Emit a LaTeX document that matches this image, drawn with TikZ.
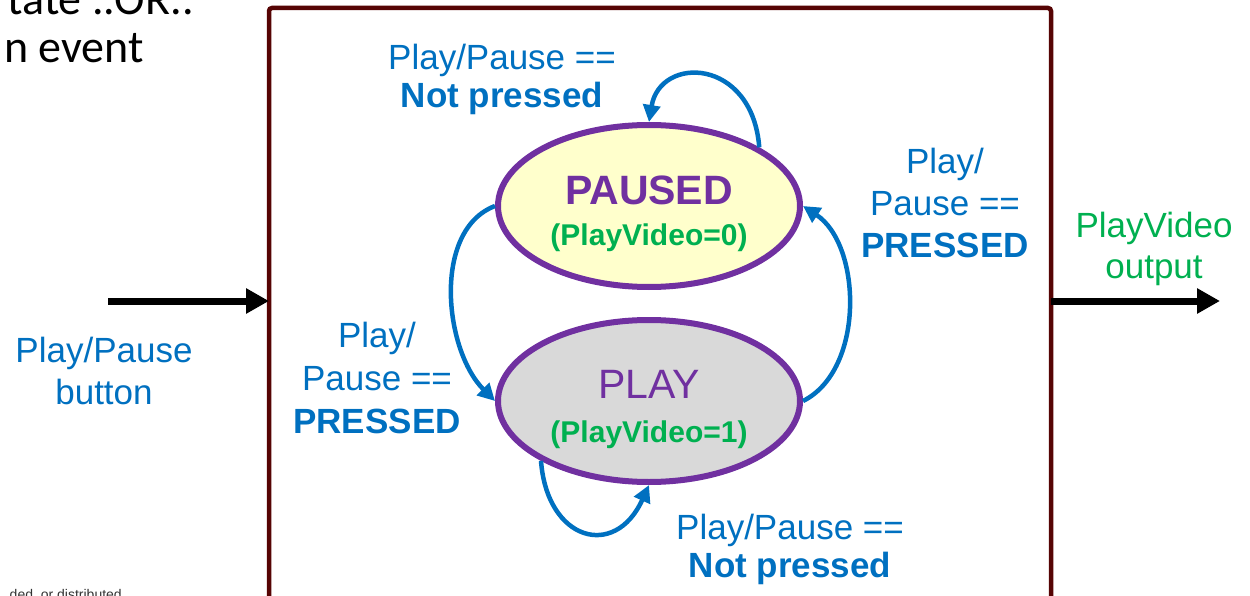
\documentclass[tikz,border=0pt]{standalone}
\usepackage{fontspec}
\setmainfont{Liberation Sans}
\newfontfamily\slidefont{Carlito}
\usetikzlibrary{arrows.meta,shapes.geometric}

\definecolor{fsmblue}{HTML}{0070C0}
\definecolor{fsmgreen}{HTML}{00B050}
\definecolor{fsmpurple}{HTML}{7030A0}
\definecolor{pausedfill}{HTML}{FFFFCC}
\definecolor{playfill}{HTML}{D9D9D9}
\definecolor{boxred}{HTML}{560404}

\tikzset{
  statenode/.style={ellipse, draw=fsmpurple, line width=6pt, inner sep=0pt,
    minimum width=302pt, minimum height=162pt},
  statename/.style={anchor=base, text=fsmpurple, inner sep=0pt,
    font=\fontsize{41}{48}\selectfont},
  stateout/.style={anchor=base, text=fsmgreen, inner sep=0pt,
    font=\fontsize{30}{36}\selectfont\bfseries},
  % multi-line labels: the base anchor sits on the last line
  translabel/.style={anchor=base, text=fsmblue, inner sep=0pt, align=center},
  portlabel/.style={anchor=base, inner sep=0pt, align=center},
  transition/.style={draw=fsmblue, line width=4.5pt,
    -{Triangle[length=17pt,width=17pt]}},
  signal/.style={draw=black, line width=7pt,
    -{Triangle[length=23pt,width=24pt]}},
}

\begin{document}
\begin{tikzpicture}[x=1pt,y=-1pt]
\useasboundingbox (0,0) rectangle (1250,596);

% slide text around the block
\node[anchor=base east, inner sep=0pt, font=\slidefont\fontsize{46}{52}\selectfont]
  (slideA) at (194,15) {tate ..OR..};
\node[anchor=base east, inner sep=0pt, font=\slidefont\fontsize{46}{52}\selectfont]
  (slideB) at (144,63) {n event};
\node[anchor=base east, inner sep=0pt, text=black!80, font=\fontsize{14}{16}\selectfont]
  (footer) at (122,599) {ded, or distributed};

% state machine block
\node[draw=boxred, line width=4.5pt, rounded corners=3pt, outer sep=0pt,
      inner sep=0pt, minimum width=782pt, minimum height=700pt,
      anchor=north west] (fsm) at (269,8) {};

% states
\node[statenode, fill=pausedfill] (paused) at (649,206) {};
\node[statenode, fill=playfill] (play) at (649,401) {};

\node[statename, font=\fontsize{41}{48}\selectfont\bfseries] (pausedname) at (649,205) {PAUSED};
\node[stateout] (pausedout) at (649,245) {(PlayVideo=0)};
\node[statename] (playname) at (649,398) {PLAY};
\node[stateout] (playout) at (649,442) {(PlayVideo=1)};

% transitions
\draw[transition] (paused.28) .. controls +(-7,-90) and +(11,-67) .. (paused.90);
\draw[transition] (paused.180) .. controls +(-63,24) and +(-51,-51) .. (play.180);
\draw[transition] (play.0) .. controls +(62,-31) and +(59,39) .. (paused.0);
\draw[transition] (play.209) .. controls +(6,80) and +(-34,75) .. (play.270);

% transition labels
\node[translabel, font=\fontsize{35}{38}\selectfont] (lblstay1) at (502,108)
  {Play/Pause ==\\\textbf{Not pressed}};
\node[translabel, font=\fontsize{35}{42.5}\selectfont] (lblgo) at (945,258)
  {Play/\\Pause ==\\\textbf{PRESSED}};
\node[translabel, font=\fontsize{35}{43}\selectfont] (lblback) at (377,433)
  {Play/\\Pause ==\\\textbf{PRESSED}};
\node[translabel, font=\fontsize{35}{38}\selectfont] (lblstay2) at (790,577)
  {Play/Pause ==\\\textbf{Not pressed}};

% input and output
\coordinate (btnin) at (108,301);
\coordinate (vidout) at (1220,301);
\draw[signal] (btnin) -- (btnin -| fsm.west);
\draw[signal] (vidout -| fsm.east) -- (vidout);

\node[portlabel, text=fsmblue, font=\fontsize{35}{42}\selectfont] (btnlbl) at (104,404)
  {Play/Pause\\button};
\node[portlabel, text=fsmgreen, font=\fontsize{35}{41}\selectfont] (outlbl) at (1154,278)
  {PlayVideo\\output};
\end{tikzpicture}
\end{document}
